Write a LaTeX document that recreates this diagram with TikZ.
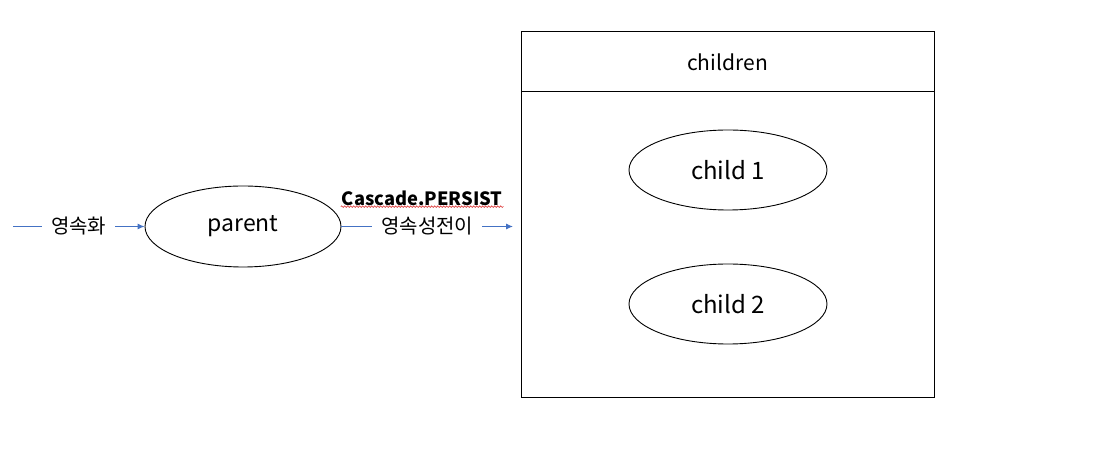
\documentclass[tikz,border=0pt]{standalone}
\usepackage{fontspec}
\setmainfont{Noto Sans CJK KR}
\usepackage{tikz}
\usetikzlibrary{arrows.meta,positioning,shapes.geometric,decorations.pathmorphing}
\definecolor{Flow}{RGB}{68,114,196}
\definecolor{Squiggle}{RGB}{220,50,50}

\begin{document}
\begin{tikzpicture}[x=1pt,y=1pt]
  \useasboundingbox (0,0) rectangle (1098,450);
  % parent entity
  \node[draw, line width=0.9pt, ellipse, minimum width=196, minimum height=81, font=\fontsize{23}{27}\selectfont] (parent) at (243,223.5) {parent};
  % children collection
  \node[draw, line width=0.9pt, minimum width=413, minimum height=366, anchor=south west] (box) at (521,52) {};
  \coordinate (hdl) at (521,359);
  \draw[line width=0.9pt] (hdl) -- (hdl -| box.east);
  \node[font=\fontsize{21}{25}\selectfont] (title) at (727.5,388) {children};
  \foreach \i/\y in {1/280,2/146} {
    \node[draw, line width=0.9pt, ellipse, minimum width=198, minimum height=80, font=\fontsize{24}{28}\selectfont] (child\i) at (728,\y) {child \i};
  }
  % flows
  \coordinate (src) at (13,223.5);
  \coordinate (dst) at (513,223.5);
  \draw[Flow, line width=0.9pt, -{Latex[length=7pt,width=6pt]}] (src) -- node[fill=white, text=black, inner xsep=9pt, font=\fontsize{20}{24}\selectfont] (persist) {영속화} (parent);
  \draw[Flow, line width=0.9pt, -{Latex[length=7pt,width=6pt]}] (parent) -- node[fill=white, text=black, inner xsep=9pt, font=\fontsize{20}{24}\selectfont] (cascade) {영속성전이} (dst);
  \node[above=7pt of cascade, xshift=-5pt, inner sep=1pt, font=\bfseries\fontsize{18.3}{22}\selectfont] (opt) {Cascade.PERSIST};
  \draw[Squiggle, line width=0.6pt, decorate, decoration={snake, amplitude=0.8pt, segment length=3pt}] (opt.south west) -- (opt.south east);
\end{tikzpicture}
\end{document}
